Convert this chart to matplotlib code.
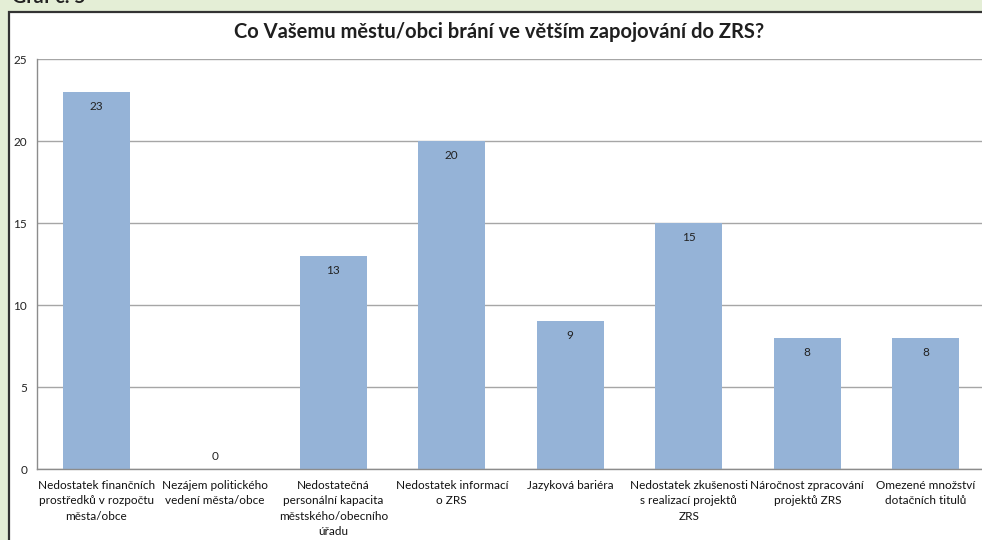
import matplotlib.pyplot as plt
from matplotlib.patches import Rectangle

# data
categories = [
    'Nedostatek finančních\nprostředků v rozpočtu\nměsta/obce',
    'Nezájem politického\nvedení města/obce',
    'Nedostatečná\npersonální kapacita\nměstského/obecního\núřadu',
    'Nedostatek informací\no ZRS',
    'Jazyková bariéra',
    'Nedostatek zkušenosti\ns realizací projektů\nZRS',
    'Náročnost zpracování\nprojektů ZRS',
    'Omezené množství\ndotačních titulů',
]
counts = [23, 0, 13, 20, 9, 15, 8, 8]
yticks = [0, 5, 10, 15, 20, 25]
title = 'Co Vašemu městu/obci brání ve větším zapojování do ZRS?'

W, H = 982, 540
plt.rcParams['font.family'] = ['Lato', 'DejaVu Sans']

fig = plt.figure(figsize=(W / 100, H / 100), dpi=100)
fig.patch.set_facecolor('#E4EED6')

# white chart box with dark border
box = Rectangle((9 / W, -0.1), 1.1, 1 - 12 / H + 0.1, transform=fig.transFigure,
                facecolor='white', edgecolor='#333333', linewidth=1.6, zorder=-5)
fig.patches.append(box)

# cut-off heading above the box
fig.text(12 / W, 1 - 3 / H, 'Graf č. 5', fontsize=14, fontweight='bold',
         color='#222222', va='baseline', ha='left')

left, right = 37, 985
top, bottom = 59, 469
ax = fig.add_axes([left / W, 1 - bottom / H, (right - left) / W, (bottom - top) / H])
ax.set_zorder(2)
ax.set_facecolor('none')

x = list(range(len(categories)))
ax.bar(x, counts, width=0.565, color='#95B3D7', zorder=2)

for xi, v in zip(x, counts):
    if v > 0:
        ax.text(xi, v - 0.55, str(v), ha='center', va='top', fontsize=8.5, color='#222222', zorder=3)
    else:
        ax.text(xi, 0.45, str(v), ha='center', va='bottom', fontsize=8.5, color='#222222', zorder=3)

ax.set_xlim(-0.5, len(categories) - 0.5)
ax.set_ylim(0, 25)
ax.set_yticks(yticks)
ax.set_yticklabels([str(t) for t in yticks], fontsize=8.5, color='#222222')
ax.set_xticks(x)
ax.set_xticklabels(categories, fontsize=8.5, color='#111111', linespacing=1.48)
ax.tick_params(axis='both', length=0)
ax.tick_params(axis='y', pad=7)
ax.tick_params(axis='x', pad=8)
ax.grid(axis='y', color='#A6A6A6', linewidth=1, zorder=1)
for s in ['top', 'right']:
    ax.spines[s].set_visible(False)
for s in ['left', 'bottom']:
    ax.spines[s].set_color('#8C8C8C')
    ax.spines[s].set_linewidth(1)

fig.text(499 / W, 1 - 32 / H, title, ha='center', va='center', fontsize=14.5,
         fontweight='bold', color='#1F1F1F')

fig.savefig('out.png', dpi=100, facecolor=fig.get_facecolor())
